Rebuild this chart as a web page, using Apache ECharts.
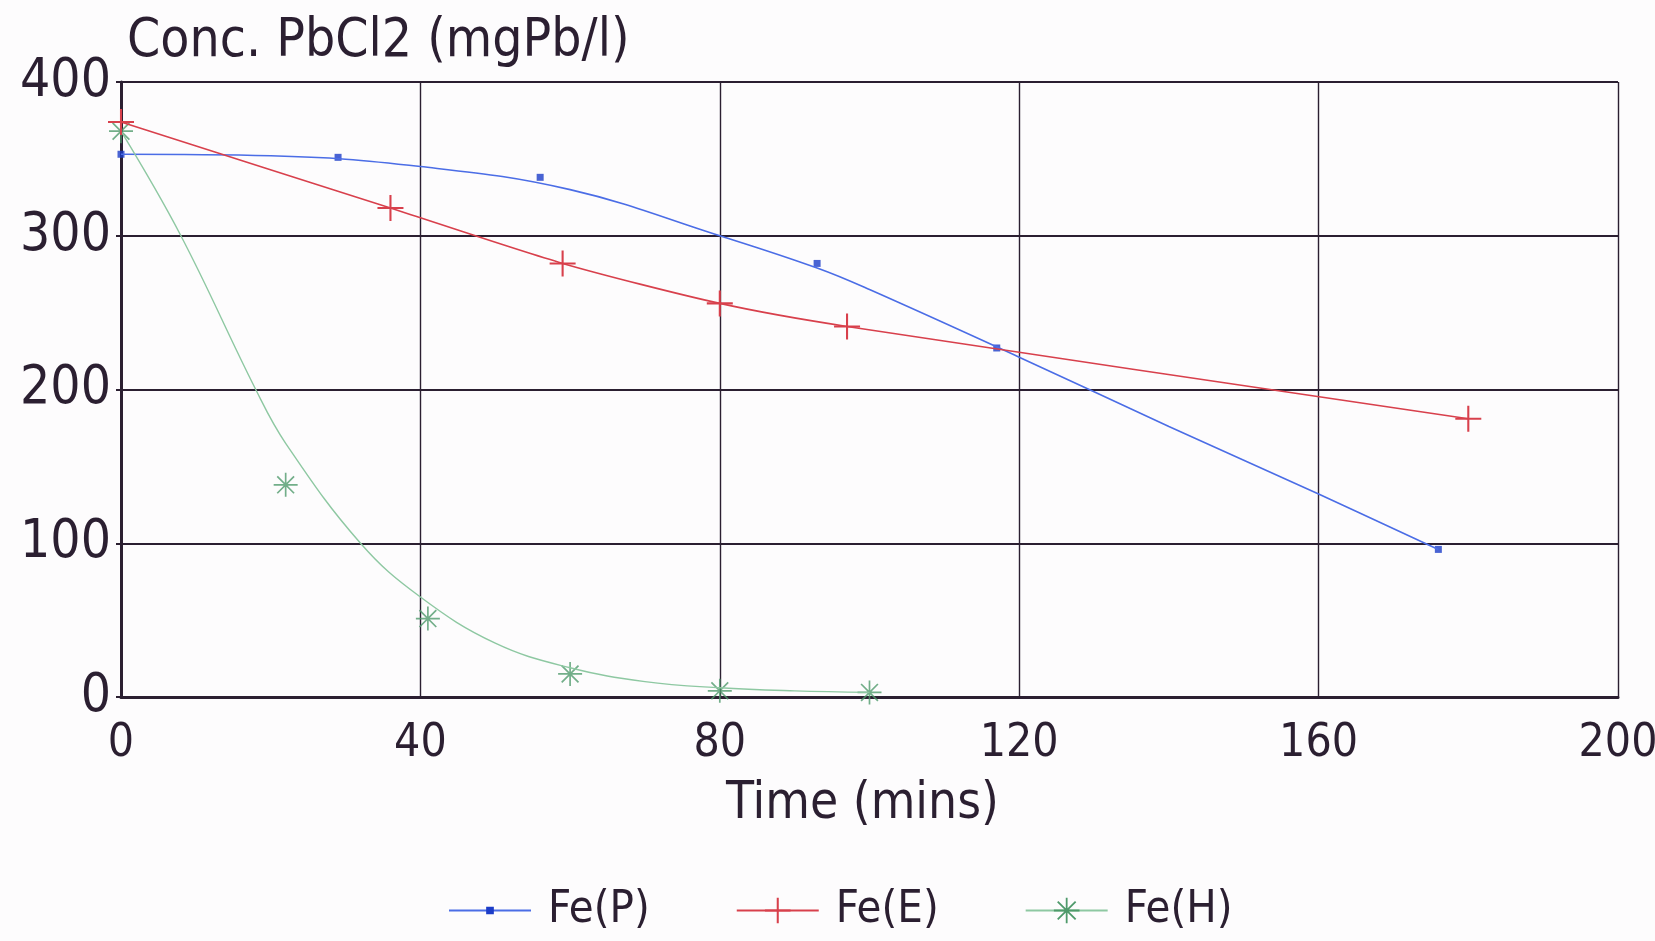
<!DOCTYPE html>
<html>
<head>
<meta charset="utf-8">
<script src="https://cdn.jsdelivr.net/npm/echarts@6/dist/echarts.min.js"></script>
<style>
  html, body { margin: 0; padding: 0; background: #fdfcfd; }
  #chart { width: 1655px; height: 941px; }
</style>
</head>
<body>
<div id="chart"></div>
<script>
// Series labels
const seriesNames = ['Fe(P)', 'Fe(E)', 'Fe(H)'];

// Axis tick values
const xTicks = [0, 40, 80, 120, 160, 200];
const yTicks = [0, 100, 200, 300, 400];

// Measured concentrations (time in mins, conc. in mgPb/l)
const timeP = [0, 29, 56, 93, 117, 176];
const concP = [353, 351, 338, 282, 227, 96];
const timeE = [0, 36, 59, 80, 97, 180];
const concE = [374, 318, 282, 256, 241, 181];
const timeH = [0, 22, 41, 60, 80, 100];
const concH = [368, 138, 51, 15, 4, 3];

// Fitted trend curves
const fitTimeP = [0, 20, 40, 60, 80, 93, 100, 120, 140, 160, 176];
const fitConcP = [353, 352, 345, 330, 300, 279, 265, 221, 176, 132, 96];
const fitTimeH = [0, 8, 18, 22, 32, 40, 50, 60, 70, 80, 90, 100];
const fitConcH = [368, 300, 200, 165, 100, 65, 35, 19, 10, 6, 4, 3];

const zip = (xs, ys) => xs.map((x, i) => [x, ys[i]]);

// Marker shapes
const PLUS = 'path://M-0.8,-10h1.6v20h-1.6zM-10,-0.8h20v1.6h-20z';
const STAR = 'path://M-0.7,-10h1.4v20h-1.4zM-10,-0.7h20v1.4h-20z' +
             'M-6.5,-7.5L7.5,6.5L6.5,7.5L-7.5,-6.5z' +
             'M-7.5,6.5L6.5,-7.5L7.5,-6.5L-6.5,7.5z';
// small square inside a larger box so the legend marker stays small
const SMALL_SQUARE = 'path://M-10,-10l0.01,0M10,10l-0.01,0M-3,-3h6v6h-6z';

const INK = '#2b1f31';
const FONT = '"DejaVu Sans Condensed", "DejaVu Sans", sans-serif';
const BLUE_LINE = '#4b6de6', BLUE_MARK = '#1c3cc8';
const RED = '#d8404c';
const GREEN_LINE = '#8ec8a2', GREEN_MARK = '#4f9a6b';

const chart = echarts.init(document.getElementById('chart'));
chart.setOption({
  backgroundColor: '#fdfcfd',
  animation: false,
  grid: { left: 121, right: 37, top: 82, bottom: 244, outerBoundsMode: 'none' },
  xAxis: {
    type: 'value', min: xTicks[0], max: xTicks[xTicks.length - 1], interval: 40,
    name: 'Time (mins)', nameLocation: 'middle', nameGap: 82,
    nameTextStyle: { fontFamily: FONT, fontSize: 51, color: INK, padding: [0, 14, 0, 0] },
    axisLine: { show: true, lineStyle: { color: INK, width: 3 } },
    axisTick: { show: false },
    axisLabel: { margin: 24, fontFamily: FONT, fontSize: 46, color: INK },
    splitLine: { show: true, lineStyle: { color: INK, width: 1.4 } }
  },
  yAxis: {
    type: 'value', min: yTicks[0], max: yTicks[yTicks.length - 1], interval: 100,
    name: 'Conc. PbCl2 (mgPb/l)', nameLocation: 'end', nameGap: 13,
    nameTextStyle: { fontFamily: FONT, fontSize: 53, color: INK,
                     align: 'left', verticalAlign: 'bottom', padding: [0, 0, 0, 6] },
    axisLine: { show: true, lineStyle: { color: INK, width: 3 } },
    axisTick: { show: true, length: 5, lineStyle: { color: INK, width: 2 } },
    axisLabel: { margin: 10, fontFamily: FONT, fontSize: 53, color: INK },
    splitLine: { show: true, lineStyle: { color: INK, width: 2 } }
  },
  legend: {
    left: 443, top: 883,
    itemWidth: 82, itemHeight: 32, itemGap: 86,
    textStyle: { fontFamily: FONT, fontSize: 45, color: INK, padding: [0, 0, 0, 12] },
    data: seriesNames
  },
  series: [
    {
      name: seriesNames[0], type: 'line', data: zip(fitTimeP, fitConcP),
      smooth: 0.4, symbol: SMALL_SQUARE, showSymbol: false,
      lineStyle: { color: BLUE_LINE, width: 1.6 }, itemStyle: { color: BLUE_MARK }
    },
    {
      name: seriesNames[0], type: 'scatter', data: zip(timeP, concP),
      symbol: 'rect', symbolSize: 7, itemStyle: { color: BLUE_MARK }
    },
    {
      name: seriesNames[1], type: 'line', data: zip(timeE, concE),
      smooth: 0.25, symbol: PLUS, symbolSize: 26, showSymbol: true,
      lineStyle: { color: RED, width: 1.6 }, itemStyle: { color: RED }
    },
    {
      name: seriesNames[2], type: 'line', data: zip(fitTimeH, fitConcH),
      smooth: 0.4, symbol: STAR, showSymbol: false,
      lineStyle: { color: GREEN_LINE, width: 1.4 }, itemStyle: { color: GREEN_MARK }
    },
    {
      name: seriesNames[2], type: 'scatter', data: zip(timeH, concH),
      symbol: STAR, symbolSize: 24, itemStyle: { color: GREEN_MARK }
    }
  ]
});
</script>
</body>
</html>
